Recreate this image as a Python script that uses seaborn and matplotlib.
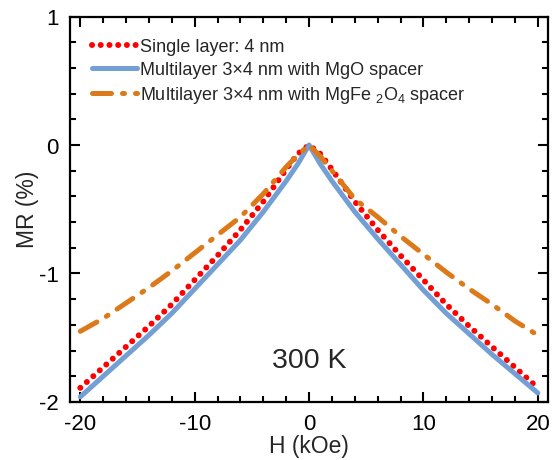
import numpy as np
import pandas as pd
import matplotlib
matplotlib.use("Agg")
import matplotlib.pyplot as plt
import seaborn as sns
from matplotlib.ticker import MultipleLocator

# field values (kOe)
field = [-20, -18, -16, -14, -12, -10, -8, -6, -4, -2, -1, 0,
         1, 2, 4, 6, 8, 10, 12, 14, 16, 18, 20]

# MR (%)
mr_single = [-1.89, -1.73, -1.57, -1.41, -1.24, -1.05, -0.86, -0.66, -0.44, -0.19, -0.07, 0.0,
             -0.07, -0.19, -0.44, -0.66, -0.86, -1.05, -1.24, -1.41, -1.57, -1.73, -1.89]
mr_mgo = [-1.96, -1.80, -1.64, -1.48, -1.31, -1.12, -0.93, -0.74, -0.52, -0.28, -0.15, 0.0,
          -0.15, -0.28, -0.52, -0.73, -0.93, -1.13, -1.31, -1.47, -1.63, -1.78, -1.93]
mr_mgfe = [-1.45, -1.35, -1.23, -1.11, -0.98, -0.84, -0.70, -0.56, -0.38, -0.17, -0.08, 0.0,
           -0.09, -0.20, -0.42, -0.56, -0.71, -0.85, -0.99, -1.12, -1.24, -1.37, -1.48]

labels = ["Single layer: 4 nm",
          "Multilayer 3×4 nm with MgO spacer",
          "Multilayer 3×4 nm with MgFe $_{2}$O$_{4}$ spacer"]

df = pd.DataFrame({"H": field, "single": mr_single, "mgo": mr_mgo, "mgfe": mr_mgfe})

sns.set_style("ticks")
plt.rcParams.update({
    "font.family": ["Liberation Sans", "DejaVu Sans"],
    "mathtext.fontset": "custom",
    "mathtext.rm": "Liberation Sans",
    "mathtext.default": "regular",
    "axes.unicode_minus": False,
    "xtick.direction": "in",
    "ytick.direction": "in",
    "xtick.top": True,
    "ytick.right": True,
})

fig = plt.figure(figsize=(5.57, 4.605), dpi=100)
ax = fig.add_axes([0.1257, 0.126, 0.8583, 0.837])

sns.lineplot(data=df, x="H", y="single", ax=ax, color="#ff0000", lw=4.3,
             linestyle=(0, (0.01, 1.45)), dash_capstyle="round", label=labels[0])
sns.lineplot(data=df, x="H", y="mgo", ax=ax, color="#729fd4", lw=3.6,
             solid_capstyle="round", label=labels[1])
sns.lineplot(data=df, x="H", y="mgfe", ax=ax, color="#dc7a1a", lw=3.6,
             linestyle=(0, (3.8, 2.2, 0.4, 2.2)), dash_capstyle="round", label=labels[2])

ax.set_xlim(-20.9, 20.9)
ax.set_ylim(-2, 1)
ax.xaxis.set_major_locator(MultipleLocator(10))
ax.xaxis.set_minor_locator(MultipleLocator(2))
ax.yaxis.set_major_locator(MultipleLocator(1))
ax.yaxis.set_minor_locator(MultipleLocator(0.2))
ax.tick_params(which="major", length=7, width=1.5, color="black", pad=8,
               labelsize=16, labelcolor="black")
ax.tick_params(which="minor", length=4.5, width=1.5, color="black")
for s in ax.spines.values():
    s.set_linewidth(1.6)
    s.set_color("black")

ax.set_xlabel("H (kOe)", fontsize=16.5, labelpad=0)
ax.set_ylabel("MR (%)", fontsize=16.5, labelpad=0)

ax.text(0, -1.68, "300 K", fontsize=20.5, ha="center", va="center")

ax.legend(loc="upper left", frameon=False, fontsize=13, handlelength=2.5,
          handletextpad=0.2, labelspacing=0.33, borderaxespad=0.9,
          borderpad=0.3)

fig.savefig("out.png", dpi=100)
